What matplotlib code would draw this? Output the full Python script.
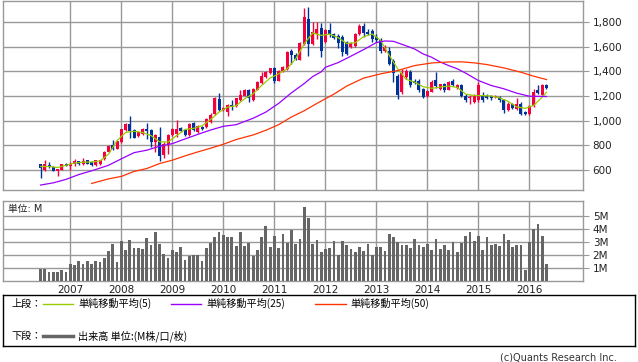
import matplotlib

matplotlib.use("Agg")

import matplotlib.pyplot as plt
import numpy as np
from matplotlib.lines import Line2D
from matplotlib.ticker import FuncFormatter

plt.rcParams["font.family"] = ["DejaVu Sans", "Noto Sans CJK JP"]

# monthly bars, first bar = 2006-06
first_year, first_month = 2006, 6
years = ["2007", "2008", "2009", "2010", "2011", "2012", "2013", "2014", "2015", "2016"]

opens = [649, 601, 645, 627, 595, 601, 654, 637, 649, 673, 649, 681, 668, 641, 649, 687,
         748, 802, 775, 828, 923, 971, 923, 874, 890, 930, 925, 828, 869, 721, 815, 882,
         896, 941, 923, 882, 981, 909, 949, 949, 990, 1057, 1178, 1084, 1070, 1130, 1121, 1164,
         1204, 1245, 1164, 1250, 1303, 1352, 1384, 1424, 1325, 1400, 1419, 1567, 1532, 1494, 1620, 1822,
         1620, 1701, 1749, 1633, 1736, 1701, 1687, 1674, 1633, 1593, 1607, 1701, 1762, 1720, 1722, 1674,
         1653, 1567, 1567, 1486, 1365, 1231, 1352, 1392, 1325, 1325, 1253, 1196, 1236, 1330, 1258, 1293,
         1250, 1325, 1267, 1285, 1204, 1180, 1150, 1164, 1212, 1204, 1196, 1190, 1191, 1164, 1084, 1132,
         1097, 1137, 1070, 1057, 1116, 1245, 1210, 1291]
highs = [652, 681, 663, 635, 612, 652, 660, 663, 689, 678, 697, 685, 672, 686, 685, 752,
         800, 848, 840, 935, 985, 1035, 930, 915, 940, 985, 935, 890, 949, 830, 890, 940,
         1003, 950, 930, 985, 990, 962, 958, 1025, 1060, 1190, 1228, 1110, 1135, 1164, 1185, 1250,
         1255, 1255, 1265, 1320, 1397, 1400, 1430, 1432, 1412, 1445, 1560, 1580, 1545, 1635, 1915, 1920,
         1795, 1795, 1789, 1745, 1789, 1710, 1700, 1690, 1645, 1640, 1710, 1780, 1790, 1740, 1745, 1700,
         1670, 1610, 1600, 1500, 1380, 1420, 1420, 1410, 1340, 1335, 1265, 1250, 1330, 1392, 1300, 1305,
         1320, 1340, 1300, 1295, 1215, 1205, 1215, 1312, 1230, 1215, 1210, 1210, 1200, 1175, 1150, 1145,
         1180, 1150, 1080, 1125, 1258, 1285, 1300, 1300]
lows = [540, 597, 614, 590, 555, 598, 630, 605, 635, 645, 645, 648, 635, 636, 645, 682,
        745, 767, 770, 820, 915, 864, 858, 866, 885, 850, 790, 750, 673, 695, 729, 875,
        869, 905, 875, 878, 915, 900, 925, 940, 985, 1050, 1075, 1075, 1038, 1084, 1115, 1160,
        1200, 1150, 1160, 1245, 1298, 1345, 1378, 1303, 1318, 1395, 1412, 1460, 1490, 1488, 1612, 1526,
        1612, 1660, 1513, 1625, 1674, 1660, 1590, 1526, 1530, 1585, 1600, 1695, 1680, 1690, 1640, 1640,
        1545, 1555, 1450, 1311, 1178, 1215, 1340, 1275, 1295, 1230, 1180, 1190, 1230, 1265, 1250, 1235,
        1245, 1280, 1260, 1195, 1150, 1136, 1140, 1155, 1155, 1175, 1170, 1180, 1155, 1062, 1075, 1095,
        1090, 1043, 1045, 1050, 1110, 1215, 1205, 1255]
closes = [614, 649, 623, 595, 608, 649, 635, 648, 673, 654, 673, 654, 641, 681, 681, 748,
          796, 775, 834, 931, 976, 917, 864, 909, 931, 915, 828, 882, 716, 815, 882, 931,
          936, 915, 882, 976, 923, 955, 936, 1017, 1043, 1183, 1084, 1100, 1124, 1110, 1180, 1210,
          1245, 1186, 1258, 1312, 1365, 1392, 1424, 1325, 1406, 1438, 1553, 1532, 1500, 1628, 1835, 1620,
          1720, 1741, 1561, 1736, 1701, 1669, 1625, 1553, 1540, 1625, 1701, 1768, 1706, 1701, 1661, 1653,
          1567, 1593, 1460, 1384, 1212, 1384, 1400, 1285, 1303, 1245, 1191, 1239, 1317, 1277, 1293, 1245,
          1312, 1285, 1285, 1204, 1164, 1190, 1204, 1285, 1164, 1186, 1180, 1200, 1164, 1084, 1132, 1105,
          1137, 1057, 1057, 1116, 1236, 1223, 1291, 1263]
volumes = [0.95, 0.95, 0.71, 0.71, 0.71, 0.87, 0.71, 1.34, 1.26, 1.55, 1.29, 1.58, 1.34, 1.55, 1.5, 1.76,
           2.3, 2.9, 1.5, 3.08, 2.37, 3.16, 2.55, 2.55, 2.45, 3.3, 2.76, 3.76, 2.84, 2.13, 1.76, 2.37,
           2.24, 2.6, 1.66, 1.95, 2.05, 2.05, 1.58, 2.58, 2.97, 3.4, 3.79, 3.55, 3.4, 3.4, 2.68, 3.76,
           2.68, 2.95, 1.97, 2.37, 3.4, 4.26, 2.6, 3.47, 2.53, 3.63, 2.95, 3.97, 2.84, 3.24, 5.76, 4.89,
           2.84, 3.16, 2.21, 2.45, 2.53, 3.08, 2.05, 3.08, 2.76, 2.45, 2.21, 2.6, 2.29, 2.84, 2.05, 2.6,
           2.6, 2.29, 3.63, 3.4, 3.0, 2.76, 2.76, 2.53, 3.24, 2.76, 2.6, 2.84, 2.37, 3.24, 2.45, 2.76,
           2.37, 3.0, 2.21, 2.92, 3.47, 3.79, 3.08, 3.47, 2.37, 3.4, 2.76, 2.84, 2.68, 3.63, 3.16, 2.6,
           2.76, 2.76, 0.87, 3.0, 4.03, 4.42, 3.47, 1.34]

# moving averages: (bar number, value)
ma5_month = [0, 2, 4, 6, 8, 10, 12, 14, 16, 18, 20, 22, 24, 26, 28, 30, 32, 34, 36, 38, 40, 42, 44, 46,
             48, 50, 52, 54, 56, 58, 60, 62, 64, 66, 68, 70, 72, 74, 76, 78, 80, 82, 84, 86, 88, 90,
             92, 94, 96, 98, 100, 102, 104, 106, 108, 110, 112, 114, 116, 118, 119]
ma5_value = [630, 630, 622, 640, 658, 665, 666, 675, 730, 840, 905, 915, 905, 880, 830, 828, 880, 930,
             938, 960, 1010, 1070, 1110, 1122, 1178, 1218, 1285, 1345, 1379, 1420, 1500, 1620, 1710,
             1690, 1700, 1672, 1625, 1630, 1680, 1701, 1650, 1530, 1420, 1335, 1312, 1275, 1262, 1272,
             1280, 1270, 1215, 1204, 1203, 1200, 1185, 1156, 1112, 1100, 1124, 1190, 1231]
ma25_month = [0, 3, 6, 9, 12, 16, 19, 22, 25, 28, 31, 34, 37, 40, 43, 46, 50, 53, 56, 59, 62, 64, 66, 67,
              70, 73, 76, 79, 81, 83, 85, 88, 90, 92, 94, 96, 98, 100, 103, 106, 109, 112, 115, 119]
ma25_value = [480, 498, 526, 565, 595, 640, 692, 742, 762, 794, 815, 853, 890, 925, 955, 968, 1020, 1070,
              1140, 1225, 1300, 1357, 1395, 1432, 1470, 1522, 1575, 1632, 1645, 1642, 1618, 1580, 1540,
              1513, 1475, 1446, 1420, 1385, 1325, 1285, 1258, 1223, 1198, 1196]
ma50_month = [12, 16, 19, 22, 25, 28, 31, 34, 37, 40, 43, 46, 50, 53, 56, 59, 62, 65, 69, 72, 76, 80, 84,
              88, 92, 96, 99, 102, 105, 109, 113, 116, 119]
ma50_value = [493, 530, 550, 590, 614, 654, 681, 716, 748, 778, 810, 848, 885, 923, 968, 1030, 1080, 1140,
              1215, 1280, 1345, 1379, 1406, 1446, 1467, 1475, 1476, 1468, 1454, 1427, 1392, 1360, 1333]

up_color = "#f5003d"
down_color = "#003399"
grid_color = "#999999"

n = len(closes)
pos = np.arange(n)
year_pos = [(int(y) - first_year) * 12 + 1 - first_month for y in years]

W, H = 638, 362
fig = plt.figure(figsize=(W / 100, H / 100), dpi=100)
ax = fig.add_axes([3 / W, 1 - 190 / H, 580 / W, 189 / H])
axv = fig.add_axes([3 / W, 1 - 281 / H, 580 / W, 80 / H], sharex=ax)

o = np.array(opens)
c = np.array(closes)
colors = [up_color if cc >= oo else down_color for oo, cc in zip(o, c)]
ax.vlines(pos, lows, highs, colors=colors, lw=1, zorder=3)
ax.bar(pos, np.maximum(np.abs(c - o), 4), bottom=np.minimum(o, c), width=0.7,
       color=colors, zorder=4, linewidth=0)
ax.plot(ma5_month, ma5_value, color="#99cc00", lw=0.9, zorder=5)
ax.plot(ma25_month, ma25_value, color="#9900ff", lw=0.9, zorder=5)
ax.plot(ma50_month, ma50_value, color="#ff3300", lw=0.9, zorder=5)

ax.set_xlim(-8.84, 127.6)
ax.set_ylim(440, 1968)
ax.set_yticks([600, 800, 1000, 1200, 1400, 1600, 1800])
ax.yaxis.set_major_formatter(FuncFormatter(lambda v, p: f"{int(v):,}"))

axv.bar(pos, volumes, width=0.65, color="#666666", zorder=3, linewidth=0)
axv.set_ylim(0, 6.2)
axv.set_yticks([1, 2, 3, 4, 5])
axv.set_yticklabels(["1M", "2M", "3M", "4M", "5M"])
axv.set_xticks(year_pos)
axv.set_xticklabels(years)
axv.text(5 / 580, 0.9, "単位: M", transform=axv.transAxes, fontsize=7, color="#222222",
         va="center", ha="left")

for a in (ax, axv):
    a.yaxis.tick_right()
    a.grid(True, color=grid_color, lw=1, zorder=0)
    a.set_axisbelow(True)
    for s in a.spines.values():
        s.set_color(grid_color)
        s.set_linewidth(1)
    a.tick_params(axis="y", length=4, color=grid_color, labelsize=7.5, labelcolor="#222222", pad=3)
    a.tick_params(axis="x", length=0, labelsize=7.5, labelcolor="#222222", pad=3)
ax.tick_params(axis="x", labelbottom=False)

# legend box
lax = fig.add_axes([3 / W, 16 / H, 632 / W, 51 / H])
lax.set_xlim(0, 632)
lax.set_ylim(51, 0)
lax.set_xticks([])
lax.set_yticks([])
for s in lax.spines.values():
    s.set_color("black")
    s.set_linewidth(1)
jp = ["Noto Sans CJK JP", "DejaVu Sans"]
lax.text(8, 8.5, "上段：", fontsize=7.3, family=jp, va="center")
lax.add_line(Line2D([40, 70], [8.5, 8.5], color="#99cc00", lw=1))
lax.text(75, 8.5, "単純移動平均(5)", fontsize=7.3, family=jp, va="center")
lax.add_line(Line2D([168, 198], [8.5, 8.5], color="#9900ff", lw=1))
lax.text(203, 8.5, "単純移動平均(25)", fontsize=7.3, family=jp, va="center")
lax.add_line(Line2D([312, 343], [8.5, 8.5], color="#ff3300", lw=1))
lax.text(347, 8.5, "単純移動平均(50)", fontsize=7.3, family=jp, va="center")
lax.text(8, 41, "下段：", fontsize=7.3, family=jp, va="center")
lax.add_line(Line2D([40, 70], [41, 41], color="#666666", lw=2.5))
lax.text(75, 41, "出来高 単位:(M株/口/枚)", fontsize=7.3, family=jp, va="center")

fig.text(617 / W, 1 - 357 / H, "(c)Quants Research Inc.", fontsize=7, color="#333333",
         ha="right", va="center")

fig.savefig("out.png", dpi=100)
